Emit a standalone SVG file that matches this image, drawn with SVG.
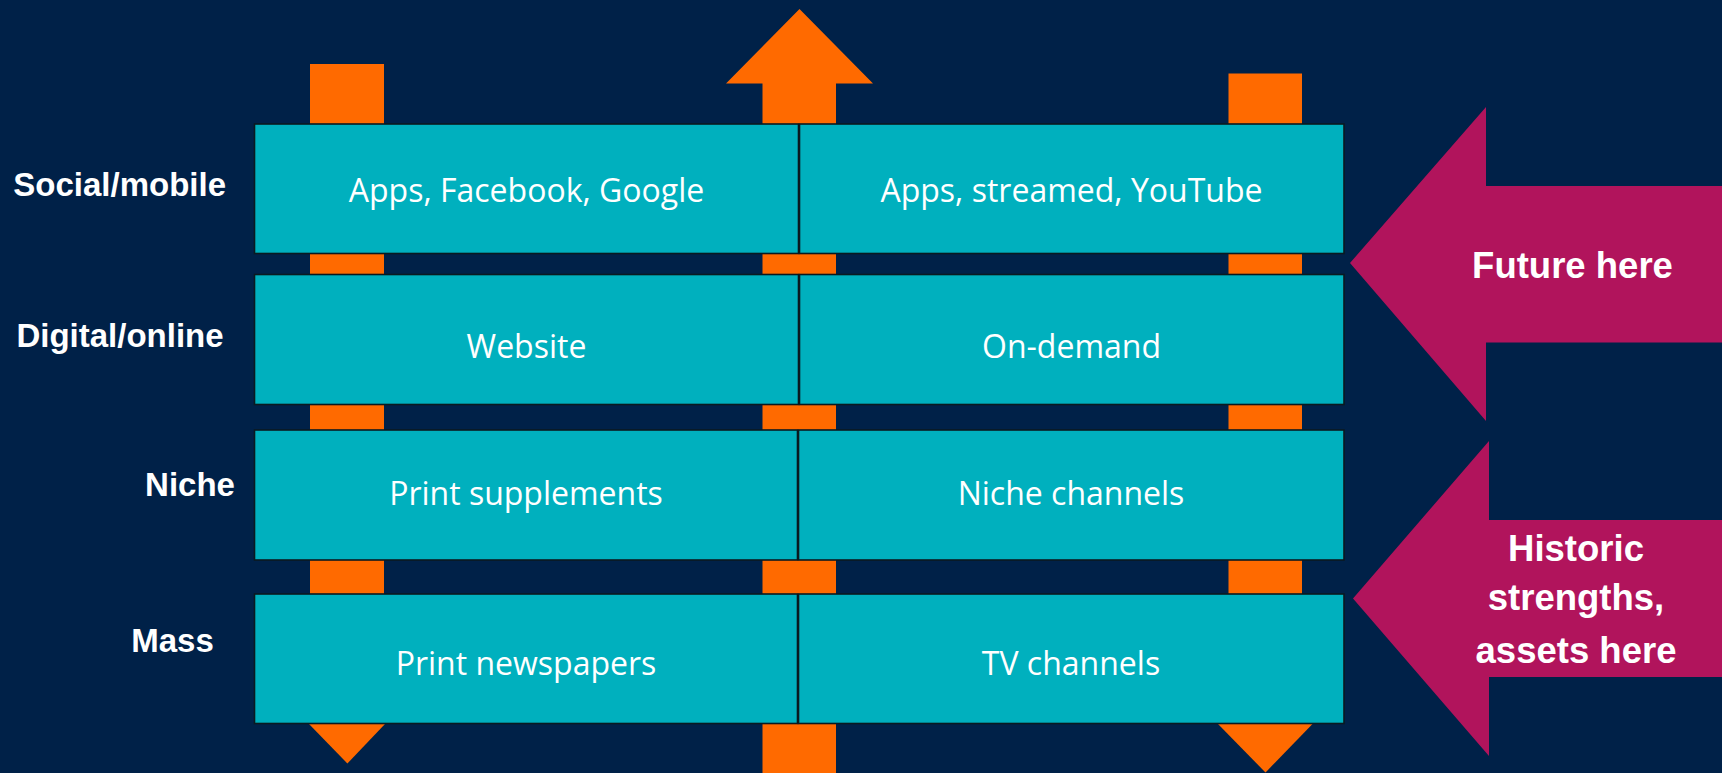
<svg xmlns="http://www.w3.org/2000/svg" width="1722" height="773" viewBox="0 0 1722 773">
  <style>
    .bg { fill: #002148; }
    .cell { fill: #00B0BE; stroke: #0A1A20; stroke-width: 1.6; }
    .bar { fill: #FF6A00; }
    .big { fill: #B1145C; }
    .ct { font-family: "Open Sans", "Noto Sans", sans-serif; font-size: 32px; fill: #FFFFFF; text-anchor: middle; }
    .lb { font-family: "Liberation Sans", Arial, sans-serif; font-weight: bold; font-size: 33px; fill: #FFFFFF; text-anchor: middle; }
    .at { font-family: "Liberation Sans", Arial, sans-serif; font-weight: bold; font-size: 36.5px; fill: #FFFFFF; text-anchor: middle; }
  </style>
  <rect class="bg" x="0" y="0" width="1722" height="773"/>

  <g id="connectors">
    <!-- left column -->
    <rect class="bar" x="310" y="64" width="74" height="62"/>
    <rect class="bar" x="310" y="252" width="74" height="24"/>
    <rect class="bar" x="310" y="403" width="74" height="29"/>
    <rect class="bar" x="310" y="558" width="74" height="38"/>
    <polygon class="bar" points="309,724 385,724 347.4,763.5"/>
    <!-- middle column -->
    <polygon class="bar" points="799.5,9 873,83.5 836,83.5 836,126 762.5,126 762.5,83.5 726,83.5"/>
    <rect class="bar" x="762.5" y="252" width="73.5" height="24"/>
    <rect class="bar" x="762.5" y="403" width="73.5" height="29"/>
    <rect class="bar" x="762.5" y="558" width="73.5" height="38"/>
    <rect class="bar" x="762.5" y="722" width="73.5" height="51"/>
    <!-- right column -->
    <rect class="bar" x="1228.5" y="73.5" width="73.5" height="52"/>
    <rect class="bar" x="1228.5" y="252" width="73.5" height="24"/>
    <rect class="bar" x="1228.5" y="403" width="73.5" height="29"/>
    <rect class="bar" x="1228.5" y="558" width="73.5" height="38"/>
    <polygon class="bar" points="1218,724 1312.5,724 1265.5,772.5"/>
  </g>

  <g id="row-social">
    <g id="social-news">
      <rect class="cell" x="254.5" y="124" width="544" height="129.5"/>
      <text class="ct" x="526.5" y="202">Apps, Facebook, Google</text>
    </g>
    <g id="social-tv">
      <rect class="cell" x="799.5" y="124" width="544.5" height="129.5"/>
      <text class="ct" x="1071.5" y="202">Apps, streamed, YouTube</text>
    </g>
  </g>
  <g id="row-digital">
    <g id="digital-news">
      <rect class="cell" x="254.5" y="274.5" width="544" height="130"/>
      <text class="ct" x="526.5" y="357.5">Website</text>
    </g>
    <g id="digital-tv">
      <rect class="cell" x="799.5" y="274.5" width="544.5" height="130"/>
      <text class="ct" x="1071.5" y="357.5">On-demand</text>
    </g>
  </g>
  <g id="row-niche">
    <g id="niche-news">
      <rect class="cell" x="254.5" y="430" width="543" height="130"/>
      <text class="ct" x="526" y="505">Print supplements</text>
    </g>
    <g id="niche-tv">
      <rect class="cell" x="798.5" y="430" width="545.5" height="130"/>
      <text class="ct" x="1071" y="505">Niche channels</text>
    </g>
  </g>
  <g id="row-mass">
    <g id="mass-news">
      <rect class="cell" x="254.5" y="594" width="543" height="129.5"/>
      <text class="ct" x="526" y="674.5">Print newspapers</text>
    </g>
    <g id="mass-tv">
      <rect class="cell" x="798.5" y="594" width="545.5" height="129.5"/>
      <text class="ct" x="1071" y="674.5">TV channels</text>
    </g>
  </g>

  <g id="labels">
    <text class="lb" x="119.7" y="196">Social/mobile</text>
    <text class="lb" x="120" y="346.5">Digital/online</text>
    <text class="lb" x="190" y="496">Niche</text>
    <text class="lb" x="172.5" y="652">Mass</text>
  </g>

  <g id="future-arrow">
    <polygon class="big" points="1350,263 1486,107 1486,186 1722,186 1722,342.5 1486,342.5 1486,421"/>
    <text class="at" x="1572.5" y="278">Future here</text>
  </g>

  <g id="historic-arrow">
    <polygon class="big" points="1353,598.5 1489,441 1489,520 1722,520 1722,677 1489,677 1489,756"/>
    <text class="at" x="1576" y="561">Historic</text>
    <text class="at" x="1576" y="610">strengths,</text>
    <text class="at" x="1576" y="663">assets here</text>
  </g>
</svg>
